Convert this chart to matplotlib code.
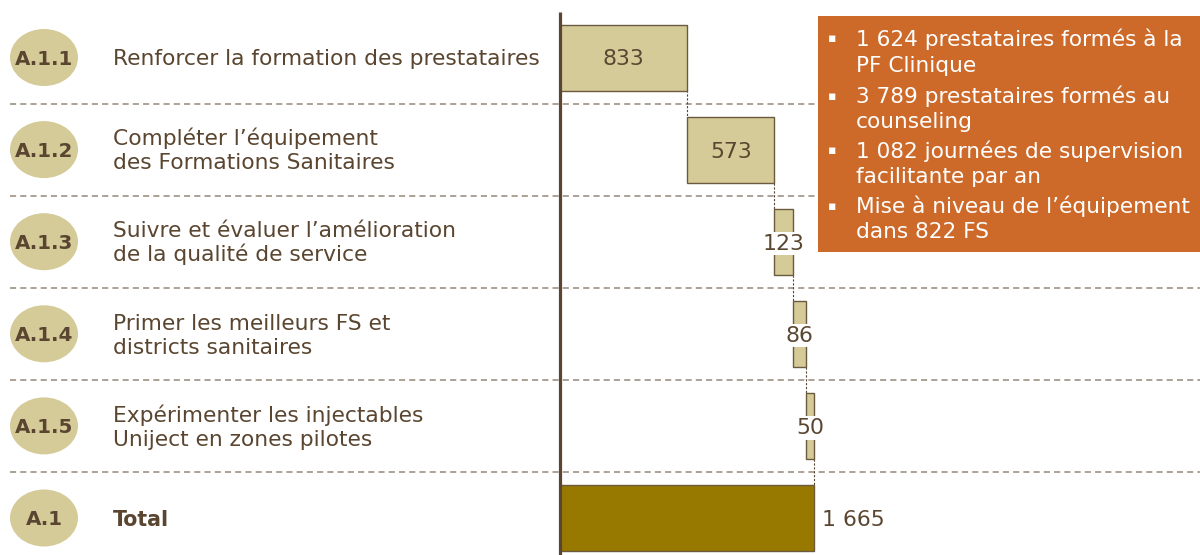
import numpy as np
import matplotlib.pyplot as plt
import matplotlib.transforms as mtransforms
from matplotlib.patches import Ellipse, Rectangle

plt.rcParams['font.family'] = ['DejaVu Sans']

codes = ['A.1.1', 'A.1.2', 'A.1.3', 'A.1.4', 'A.1.5', 'A.1']
labels = [
    ['Renforcer la formation des prestataires'],
    ['Compléter l’équipement', 'des Formations Sanitaires'],
    ['Suivre et évaluer l’amélioration', 'de la qualité de service'],
    ['Primer les meilleurs FS et', 'districts sanitaires'],
    ['Expérimenter les injectables', 'Uniject en zones pilotes'],
    ['Total'],
]
values = [833, 573, 123, 86, 50]
total = sum(values)
value_labels = ['833', '573', '123', '86', '50']
total_label = '1 665'
box_items = [
    ['1 624 prestataires formés à la', 'PF Clinique'],
    ['3 789 prestataires formés au', 'counseling'],
    ['1 082 journées de supervision', 'facilitante par an'],
    ['Mise à niveau de l’équipement', 'dans 822 FS'],
]

brown = '#5a4630'
tan = '#d5cb98'
gold = '#977900'
orange = '#cd6a2a'
grey = '#958879'

W, H = 1200, 555
fig = plt.figure(figsize=(12, 5.55), dpi=100)
ax = fig.add_axes([0, 0, 1, 1])
px_per_unit = 254 / 1665
row_px = 92.1
ax.set_xlim(-560 / px_per_unit, 640 / px_per_unit)
ax.set_ylim((H - 57.5) / row_px, -57.5 / row_px)
ax.axis('off')

blend = mtransforms.blended_transform_factory(ax.transAxes, ax.transData)
bh = 66 / row_px

# separators
for i in range(len(codes) - 1):
    ax.axhline(i + 0.5, xmin=10 / W, xmax=1, color=grey, lw=1.1,
               linestyle=(0, (4.0, 2.7)), zorder=1)

# waterfall bars
starts = np.concatenate([[0], np.cumsum(values)[:-1]])
ax.barh(range(len(values)), values, left=starts, height=bh, color=tan,
        edgecolor='#6b5a3e', linewidth=1.0, zorder=2)
ax.barh(len(values), total, height=bh, color=gold, edgecolor='#6b5a3e',
        linewidth=1.0, zorder=2)

# connectors
ends = np.cumsum(values)
for i, e in enumerate(ends):
    ax.plot([e, e], [i + bh / 2, i + 1 - bh / 2], color=brown, lw=0.8,
            linestyle=(0, (2, 1.5)), zorder=1.5)

# value labels
for i, (s, v, t) in enumerate(zip(starts, values, value_labels)):
    kw = {}
    if v < 200:
        kw['bbox'] = dict(boxstyle='square,pad=0.08', fc='white', ec='none')
    ax.annotate(t, xy=(s + v / 2, i), xytext=(0, -5.7), textcoords='offset points',
                ha='center', va='baseline', fontsize=15.8, color=brown, zorder=4, **kw)
ax.annotate(total_label, xy=(total, len(values)), xytext=(5.8, -5.7),
            textcoords='offset points', ha='left', va='baseline',
            fontsize=15.8, color=brown)

# axis line
ax.plot([0, 0], [(H - 57.5) / row_px, (12 - 57.5) / row_px], color=brown,
        lw=2.3, solid_capstyle='butt', zorder=5)

# left column: ellipses, codes, descriptions
for i, (c, lines) in enumerate(zip(codes, labels)):
    ax.add_patch(Ellipse((44 / W, i), 68 / W, 57 / row_px, transform=blend,
                         facecolor=tan, edgecolor='none', zorder=2))
    ax.annotate(c, xy=(44 / W, i), xycoords=blend, xytext=(0, -5.2),
                textcoords='offset points', ha='center', va='baseline',
                fontsize=14.3, fontweight='bold', color=brown)
    n = len(lines)
    for k, line in enumerate(lines):
        dy = (k - (n - 1) / 2) * 24 + 7.8
        ax.annotate(line, xy=(113 / W, i), xycoords=blend,
                    xytext=(0, -dy * 0.72), textcoords='offset points',
                    ha='left', va='baseline', fontsize=14.8 if c == 'A.1' else 15.7,
                    fontweight='bold' if c == 'A.1' else 'normal', color=brown)

# orange box
ax.add_patch(Rectangle((818 / W, 1 - 252 / H), 382 / W, 236 / H,
                       transform=ax.transAxes, facecolor=orange,
                       edgecolor='none', zorder=6))
baselines = [[46, 72], [103, 128], [158, 183], [213, 238]]
for item, bl in zip(box_items, baselines):
    ax.text(832 / W, 1 - (bl[0] - 7) / H, '▪', transform=ax.transAxes,
            ha='center', va='center', fontsize=9, color='white', zorder=7)
    for line, b in zip(item, bl):
        ax.text(856 / W, 1 - b / H, line, transform=ax.transAxes,
                ha='left', va='baseline', fontsize=15.6, color='white', zorder=7)

plt.savefig('out.png', dpi=100)
